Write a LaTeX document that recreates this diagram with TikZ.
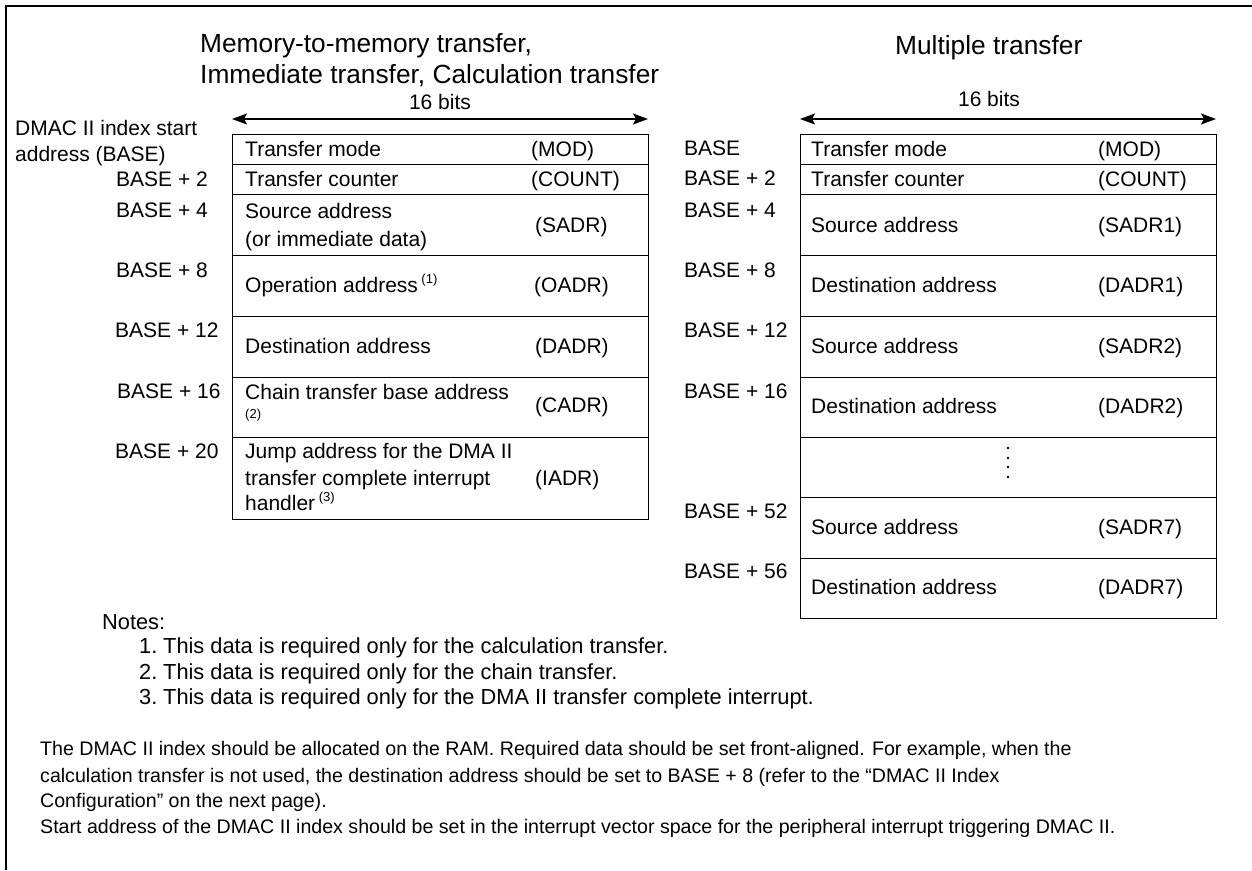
\documentclass[tikz,border=0pt]{standalone}
\usepackage{fontspec}
\setmainfont{Liberation Sans}
\usetikzlibrary{arrows.meta}
\begin{document}
\begin{tikzpicture}[x=1pt,y=-1pt,
  txt/.style={font=\fontsize{21}{25}\selectfont, inner sep=0pt, anchor=west, text height=15pt, text depth=0pt},
  notetxt/.style={font=\fontsize{21.8}{26}\selectfont, inner sep=0pt, anchor=west, text height=15pt, text depth=0pt},
  paratxt/.style={font=\fontsize{19.6}{24}\selectfont, inner sep=0pt, anchor=west, text height=14pt, text depth=0pt},
  ttl/.style={font=\fontsize{26.3}{31}\selectfont, inner sep=0pt, anchor=west, text height=19pt, text depth=0pt},
  sml/.style={font=\fontsize{13}{13}\selectfont, inner sep=0pt, anchor=west},
  cellbox/.style={draw, line width=1.4pt, inner sep=0pt, anchor=north west, minimum width=416pt},
  dimarrow/.style={{Stealth[length=15pt,width=11pt,inset=3pt]}-{Stealth[length=15pt,width=11pt,inset=3pt]}, line width=1.3pt},
  frameline/.style={line width=2pt}]
\useasboundingbox (0,0) rectangle (1252,870);
% outer frame (only top and left edges are visible)
\coordinate (f1) at (1252,5.5);
\coordinate (f2) at (5.5,5.5);
\coordinate (f3) at (5.5,870);
\draw[frameline] (f1) -- (f2) -- (f3);

% titles
\node[ttl] (t1a) at (200,43) {Memory-to-memory transfer,};
\node[ttl] (t1b) at (200,74) {Immediate transfer, Calculation transfer};
\node[ttl] (t2) at (895,45) {Multiple transfer};

% 16 bits arrows
\node[txt, anchor=center] (b1) at (440,102) {16 bits};
\node[txt, anchor=center] (b2) at (989,99) {16 bits};
\coordinate (la1) at (232,119);
\coordinate (la2) at (648,119);
\coordinate (ra1) at (800,119);
\coordinate (ra2) at (1216,119);
\draw[dimarrow] (la1) -- (la2);
\draw[dimarrow] (ra1) -- (ra2);

% left table
\node[cellbox, minimum height=30pt] (L1) at (232,134) {};
\node[cellbox, minimum height=30pt] (L2) at (232,164) {};
\node[cellbox, minimum height=61pt] (L3) at (232,194) {};
\node[cellbox, minimum height=61pt] (L4) at (232,255) {};
\node[cellbox, minimum height=61pt] (L5) at (232,316) {};
\node[cellbox, minimum height=60pt] (L6) at (232,377) {};
\node[cellbox, minimum height=82pt] (L7) at (232,437) {};

\node[txt] (L1a) at (245,149) {Transfer mode};
\node[txt] (L1b) at (531,149) {(MOD)};
\node[txt] (L2a) at (245,179) {Transfer counter};
\node[txt] (L2b) at (531,179) {(COUNT)};
\node[txt] (L3a) at (245,211) {Source address};
\node[txt] (L3c) at (245,239) {(or immediate data)};
\node[txt] (L3b) at (535,225) {(SADR)};
\node[txt] (L4a) at (245,285) {Operation address\,\raisebox{9pt}{\fontsize{13}{13}\selectfont (1)}};
\node[txt] (L4b) at (534,285) {(OADR)};
\node[txt] (L5a) at (245,346) {Destination address};
\node[txt] (L5b) at (535,346) {(DADR)};
\node[txt] (L6a) at (245,392) {Chain transfer base address};
\node[sml] (L6c) at (245,415) {(2)};
\node[txt] (L6b) at (535,405) {(CADR)};
\node[txt] (L7a) at (245,451) {Jump address for the DMA II};
\node[txt] (L7c) at (245,478) {transfer complete interrupt};
\node[txt] (L7d) at (245,503) {handler\,\raisebox{9pt}{\fontsize{13}{13}\selectfont (3)}};
\node[txt] (L7b) at (535,478) {(IADR)};

% left addresses
\node[txt] (A0a) at (15,128) {DMAC II index start};
\node[txt] (A0b) at (15,154) {address (BASE)};
\node[txt] (A2) at (116,179) {BASE + 2};
\node[txt] (A4) at (116,210) {BASE + 4};
\node[txt] (A8) at (116,270) {BASE + 8};
\node[txt] (A12) at (115,330) {BASE + 12};
\node[txt] (A16) at (117,391) {BASE + 16};
\node[txt] (A20) at (115,451) {BASE + 20};

% right table
\node[cellbox, minimum height=30pt] (R1) at (800,134) {};
\node[cellbox, minimum height=30pt] (R2) at (800,164) {};
\node[cellbox, minimum height=61pt] (R3) at (800,194) {};
\node[cellbox, minimum height=61pt] (R4) at (800,255) {};
\node[cellbox, minimum height=61pt] (R5) at (800,316) {};
\node[cellbox, minimum height=60pt] (R6) at (800,377) {};
\node[cellbox, minimum height=60pt] (R7) at (800,437) {};
\node[cellbox, minimum height=61pt] (R8) at (800,497) {};
\node[cellbox, minimum height=60pt] (R9) at (800,558) {};

\node[txt] (R1a) at (811,149) {Transfer mode};
\node[txt] (R1b) at (1098,149) {(MOD)};
\node[txt] (R2a) at (811,179) {Transfer counter};
\node[txt] (R2b) at (1098,179) {(COUNT)};
\node[txt] (R3a) at (811,225) {Source address};
\node[txt] (R3b) at (1098,225) {(SADR1)};
\node[txt] (R4a) at (811,285) {Destination address};
\node[txt] (R4b) at (1098,285) {(DADR1)};
\node[txt] (R5a) at (811,346) {Source address};
\node[txt] (R5b) at (1098,346) {(SADR2)};
\node[txt] (R6a) at (811,406) {Destination address};
\node[txt] (R6b) at (1098,406) {(DADR2)};
\node[txt] (R8a) at (811,527) {Source address};
\node[txt] (R8b) at (1098,527) {(SADR7)};
\node[txt] (R9a) at (811,587) {Destination address};
\node[txt] (R9b) at (1098,587) {(DADR7)};
\foreach \yy in {448,458,467,477} \fill (1008,\yy) circle (1.3pt);

% right addresses
\node[txt] (B0) at (684,148) {BASE};
\node[txt] (B2) at (684,178) {BASE + 2};
\node[txt] (B4) at (684,210) {BASE + 4};
\node[txt] (B8) at (684,270) {BASE + 8};
\node[txt] (B12) at (684,330) {BASE + 12};
\node[txt] (B16) at (684,391) {BASE + 16};
\node[txt] (B52) at (684,511) {BASE + 52};
\node[txt] (B56) at (684,571) {BASE + 56};

% notes
\node[notetxt] (N0) at (102,622) {Notes:};
\node[notetxt] (N1n) at (139,646) {1.};
\node[notetxt] (N1) at (163,646) {This data is required only for the calculation transfer.};
\node[notetxt] (N2n) at (139,672) {2.};
\node[notetxt] (N2) at (163,672) {This data is required only for the chain transfer.};
\node[notetxt] (N3n) at (139,697) {3.};
\node[notetxt] (N3) at (163,697) {This data is required only for the DMA II transfer complete interrupt.};

% paragraph
\node[paratxt] (P1) at (40,748) {The DMAC II index should be allocated on the RAM. Required data should be set front-aligned. For example, when the};
\node[paratxt] (P2) at (40,775) {calculation transfer is not used, the destination address should be set to BASE + 8 (refer to the “DMAC II Index};
\node[paratxt] (P3) at (40,800) {Configuration” on the next page).};
\node[paratxt] (P4) at (40,826) {Start address of the DMAC II index should be set in the interrupt vector space for the peripheral interrupt triggering DMAC II.};
\end{tikzpicture}
\end{document}
